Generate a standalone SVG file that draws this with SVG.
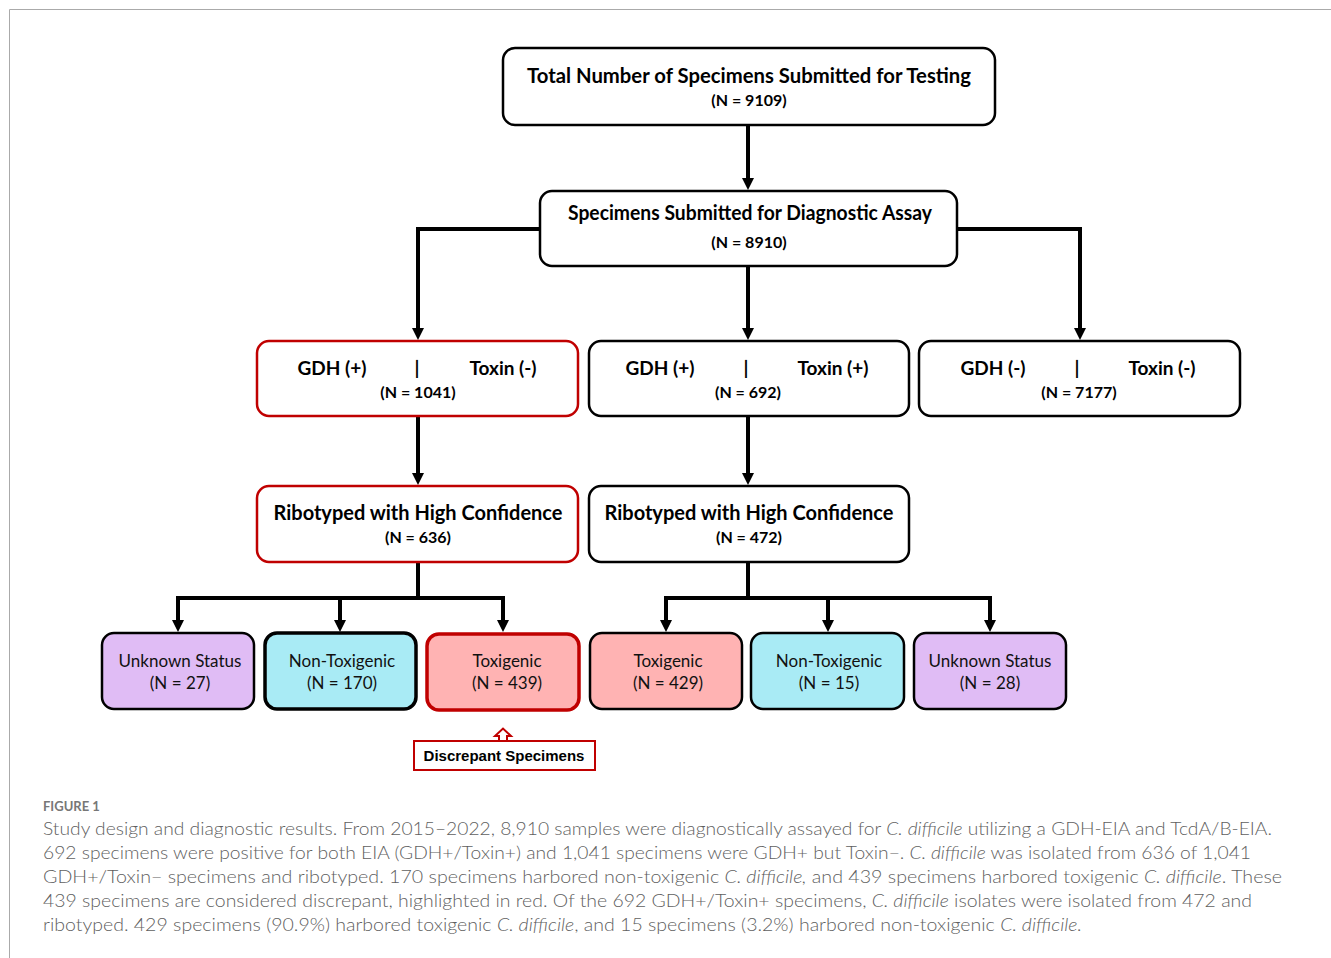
<svg xmlns="http://www.w3.org/2000/svg" width="1331" height="958" viewBox="0 0 1331 958">
<style>
.box{fill:#fff;stroke:#000;stroke-width:2.5}
.red{stroke:#c00000}
.thick{stroke-width:3.5}
.pur{fill:#e0bcf5}
.cy{fill:#a9ebf5}
.pk{fill:#ffb3b3}
.t1{font-family:Lato,"Liberation Sans",sans-serif;font-weight:bold;font-size:19px;fill:#000;text-anchor:middle}
.tb{font-family:Lato,"Liberation Sans",sans-serif;font-weight:bold;font-size:20px;fill:#000;text-anchor:middle}
.t2{font-family:Lato,"Liberation Sans",sans-serif;font-weight:bold;font-size:16px;fill:#000;text-anchor:middle}
.t3{font-family:Lato,"Liberation Sans",sans-serif;font-size:17px;fill:#111;text-anchor:middle}
.con{fill:none;stroke:#000;stroke-width:4}
.cap{font-family:Lato,"Liberation Sans",sans-serif;font-weight:300;font-size:17px;fill:#5f5f5f}
</style>
<rect width="1331" height="958" fill="#fff"/>
<path d="M9.5,958 V9.5 H1331" fill="none" stroke="#aaa" stroke-width="1"/>

<g id="connectors">
<path class="con" d="M748,125 V178"/>
<path d="M742,178 L754,178 L748,190 Z"/>
<path class="con" d="M540,229 H418 V328"/>
<path d="M412,328 L424,328 L418,340 Z"/>
<path class="con" d="M748,266 V328"/>
<path d="M742,328 L754,328 L748,340 Z"/>
<path class="con" d="M957,229 H1080 V328"/>
<path d="M1074,328 L1086,328 L1080,340 Z"/>
<path class="con" d="M418,417 V473"/>
<path d="M412,473 L424,473 L418,485 Z"/>
<path class="con" d="M748,417 V473"/>
<path d="M742,473 L754,473 L748,485 Z"/>
<path class="con" d="M418,562 V598 M178,620 V598 H503 V620 M340,598 V620"/>
<path d="M172,620 L184,620 L178,632 Z M334,620 L346,620 L340,632 Z M497,620 L509,620 L503,632 Z"/>
<path class="con" d="M748,562 V598 M666,620 V598 H990 V620 M828,598 V620"/>
<path d="M660,620 L672,620 L666,632 Z M822,620 L834,620 L828,632 Z M984,620 L996,620 L990,632 Z"/>
</g>

<g id="n-total">
<rect class="box" x="503" y="48" width="492" height="77" rx="12"/>
<text class="tb" x="749" y="83" textLength="444" lengthAdjust="spacingAndGlyphs">Total Number of Specimens Submitted for Testing</text>
<text class="t2" x="749" y="106">(N = 9109)</text>
</g>
<g id="n-assay">
<rect class="box" x="540" y="191" width="417" height="75" rx="12"/>
<text class="tb" x="750" y="220" textLength="364" lengthAdjust="spacingAndGlyphs">Specimens Submitted for Diagnostic Assay</text>
<text class="t2" x="749" y="248">(N = 8910)</text>
</g>

<g id="n-gdhp-toxn">
<rect class="box red" x="257" y="341" width="321" height="75" rx="12"/>
<text class="t1" x="332" y="375">GDH (+)</text>
<text class="t1" x="417" y="375">|</text>
<text class="t1" x="503" y="375">Toxin (-)</text>
<text class="t2" x="418" y="398">(N = 1041)</text>
</g>
<g id="n-gdhp-toxp">
<rect class="box" x="589" y="341" width="320" height="75" rx="12"/>
<text class="t1" x="660" y="375">GDH (+)</text>
<text class="t1" x="746" y="375">|</text>
<text class="t1" x="833" y="375">Toxin (+)</text>
<text class="t2" x="748" y="398">(N = 692)</text>
</g>
<g id="n-gdhn-toxn">
<rect class="box" x="919" y="341" width="321" height="75" rx="12"/>
<text class="t1" x="993" y="375">GDH (-)</text>
<text class="t1" x="1077" y="375">|</text>
<text class="t1" x="1162" y="375">Toxin (-)</text>
<text class="t2" x="1079" y="398">(N = 7177)</text>
</g>

<g id="n-ribo-left">
<rect class="box red" x="257" y="486" width="321" height="76" rx="12"/>
<text class="tb" x="418" y="520" textLength="289" lengthAdjust="spacingAndGlyphs">Ribotyped with High Confidence</text>
<text class="t2" x="418" y="543">(N = 636)</text>
</g>
<g id="n-ribo-right">
<rect class="box" x="589" y="486" width="320" height="76" rx="12"/>
<text class="tb" x="749" y="520" textLength="289" lengthAdjust="spacingAndGlyphs">Ribotyped with High Confidence</text>
<text class="t2" x="749" y="543">(N = 472)</text>
</g>

<g id="n-unk-left">
<rect class="box pur" x="102" y="633" width="152" height="76" rx="12"/>
<text class="t3" x="180" y="667">Unknown Status</text>
<text class="t3" x="180" y="689">(N = 27)</text>
</g>
<g id="n-non-left">
<rect class="box cy thick" x="265" y="633" width="151" height="76" rx="12"/>
<text class="t3" x="342" y="667">Non-Toxigenic</text>
<text class="t3" x="342" y="689">(N = 170)</text>
</g>
<g id="n-tox-left">
<rect class="box pk red thick" x="427" y="634" width="152" height="76" rx="12"/>
<text class="t3" x="507" y="667">Toxigenic</text>
<text class="t3" x="507" y="689">(N = 439)</text>
</g>
<g id="n-tox-right">
<rect class="box pk" x="590" y="633" width="152" height="76" rx="12"/>
<text class="t3" x="668" y="667">Toxigenic</text>
<text class="t3" x="668" y="689">(N = 429)</text>
</g>
<g id="n-non-right">
<rect class="box cy" x="751" y="633" width="153" height="76" rx="12"/>
<text class="t3" x="829" y="667">Non-Toxigenic</text>
<text class="t3" x="829" y="689">(N = 15)</text>
</g>
<g id="n-unk-right">
<rect class="box pur" x="914" y="633" width="152" height="76" rx="12"/>
<text class="t3" x="990" y="667">Unknown Status</text>
<text class="t3" x="990" y="689">(N = 28)</text>
</g>

<g id="n-discrepant">
<path d="M499,741 V736 H495 L503,728.5 L511,736 H507 V741" fill="#fff" stroke="#c00000" stroke-width="2"/>
<rect x="414" y="741" width="181" height="29" fill="#fff" stroke="#c00000" stroke-width="2"/>
<text x="504" y="761" font-family="Liberation Sans,Arial,sans-serif" font-weight="bold" font-size="15" text-anchor="middle" fill="#000">Discrepant Specimens</text>
</g>

<g id="caption">
<text x="43" y="811" font-family="Lato,'Liberation Sans',sans-serif" font-size="13" fill="#777" font-weight="bold">FIGURE 1</text>
<text class="cap" x="43" y="835" textLength="1229" lengthAdjust="spacingAndGlyphs">Study design and diagnostic results. From 2015–2022, 8,910 samples were diagnostically assayed for <tspan font-style="italic">C. difficile</tspan> utilizing a GDH-EIA and TcdA/B-EIA.</text>
<text class="cap" x="43" y="859" textLength="1208" lengthAdjust="spacingAndGlyphs">692 specimens were positive for both EIA (GDH+/Toxin+) and 1,041 specimens were GDH+ but Toxin−. <tspan font-style="italic">C. difficile</tspan> was isolated from 636 of 1,041</text>
<text class="cap" x="43" y="883" textLength="1239" lengthAdjust="spacingAndGlyphs">GDH+/Toxin− specimens and ribotyped. 170 specimens harbored non-toxigenic <tspan font-style="italic">C. difficile,</tspan> and 439 specimens harbored toxigenic <tspan font-style="italic">C. difficile</tspan>. These</text>
<text class="cap" x="43" y="907" textLength="1209" lengthAdjust="spacingAndGlyphs">439 specimens are considered discrepant, highlighted in red. Of the 692 GDH+/Toxin+ specimens, <tspan font-style="italic">C. difficile</tspan> isolates were isolated from 472 and</text>
<text class="cap" x="43" y="931" textLength="1039" lengthAdjust="spacingAndGlyphs">ribotyped. 429 specimens (90.9%) harbored toxigenic <tspan font-style="italic">C. difficile</tspan>, and 15 specimens (3.2%) harbored non-toxigenic <tspan font-style="italic">C. difficile.</tspan></text>
</g>
</svg>
